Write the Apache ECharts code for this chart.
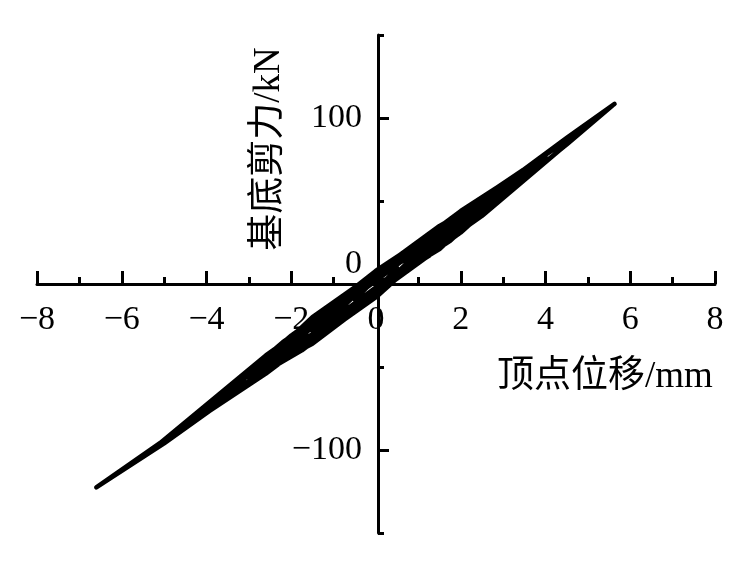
<!DOCTYPE html>
<html>
<head>
<meta charset="utf-8">
<script src="https://cdn.jsdelivr.net/npm/echarts@6/dist/echarts.min.js"></script>
<style>
html,body{margin:0;padding:0;background:#fff;}
#chart{width:744px;height:561px;}
</style>
</head>
<body>
<div id="chart"></div>
<script>
// Top displacement (mm) and base shear (kN)
var disp = [
  0, 0.25, 0.5, 0.25, 0, -0.25, -0.5, -0.25, 0,
  0.5, 1, 0.5, 0, -0.5, -1, -0.5, 0,
  0.5, 1, 0.5, 0, -0.5, -1, -0.5, 0,
  0.75, 1.5, 0.75, 0, -0.75, -1.5, -0.75, 0,
  0.75, 1.5, 0.75, 0, -0.75, -1.5, -0.75, 0,
  1, 2, 1, 0, -1, -2, -1, 0,
  1, 2, 1, 0, -1, -2, -1, 0,
  1.25, 2.5, 1.25, 0, -1.25, -2.5, -1.25, 0,
  1.25, 2.5, 1.25, 0, -1.25, -2.5, -1.25, 0,
  1.5, 3, 1.5, 0, -1.5, -3, -1.5, 0,
  1.5, 3, 1.5, 0, -1.5, -3, -1.5, 0,
  1.75, 3.5, 1.75, 0, -1.75, -3.5, -1.75, 0,
  2, 4, 2, 0, -2, -4, -2, 0,
  2, 4, 2, 0, -2.2, -4.3, -2.2, 0,
  2.5, 5, 2.5, 0, -2.6, -5.2, -2.6, 0,
  2.8, 4.5, 5.63, 4.5, 2.8, 0, -3.3, -5, -6.6, -5, -3.3, 0
];
var force = [
  0, 3, 9.5, 7, 3, -3, -9.5, -7, -3,
  5, 19, 14, 7, -5, -19.5, -14, -7,
  7, 19, 12, 4, -7, -19, -12, -4,
  9, 28.5, 19, 8, -9, -28, -19, -8,
  11, 28, 16, 5, -11, -28.5, -16, -5,
  13, 38, 25, 8, -12, -37, -26, -8,
  15, 38.5, 22, 3, -14, -37.5, -23, -3,
  17, 48, 30, 7, -16, -46, -31, -7,
  20, 47.5, 27, 2, -19, -46.5, -28, -2,
  21, 57, 35, 7, -20, -56, -36, -7,
  24, 57.5, 32, 3, -23, -56.5, -33, -3,
  26, 67, 39, 6, -26, -66, -40, -6,
  31, 77, 44, 6, -31, -75, -43, -6,
  33, 76.5, 42, 4, -35, -81, -45, -4,
  41, 95, 52, 4, -43, -98, -54, -4,
  49, 84, 108.5, 88, 56, 2, -60, -94, -122.5, -96, -65, -2
];
var xTicks = [-8, -6, -4, -2, 0, 2, 4, 6, 8];
var yLabelValues = [-100, 0, 100];
var yMajorTicks = [-100, 100];
var xName = '顶点位移/mm';
var yName = '基底剪力/kN';

var points = disp.map(function (d, i) { return [d, force[i]]; });

var FONT = "'Liberation Serif', 'Times New Roman', 'Noto Sans CJK SC', serif";
var GRID = {left: 37, right: 29, top: 35, bottom: 28};
var X0PX = 378;   // where the vertical axis crosses
var Y0PX = 284;   // where the horizontal axis crosses
function neg(v) { return v < 0 ? '\u2212' + (-v) : String(v); }

var chart = echarts.init(document.getElementById('chart'), null, {renderer: 'canvas'});
chart.setOption({
  backgroundColor: '#fff',
  animation: false,
  grid: {left: GRID.left, right: GRID.right, top: GRID.top, bottom: GRID.bottom, containLabel: false, outerBoundsMode: 'none'},
  xAxis: {
    type: 'value', min: xTicks[0], max: xTicks[xTicks.length - 1], interval: 2,
    position: 'bottom', offset: -(561 - GRID.bottom - Y0PX),
    axisLine: {onZero: false, lineStyle: {color: '#000', width: 3}},
    axisTick: {inside: true, length: 13, lineStyle: {color: '#000', width: 3}},
    minorTick: {show: true, splitNumber: 2, length: 7, lineStyle: {color: '#000', width: 3}},
    axisLabel: {color: '#000', fontSize: 34, fontFamily: FONT, margin: 19, formatter: neg},
    splitLine: {show: false}
  },
  yAxis: [{
    type: 'value', min: -150, max: 150, interval: 50,
    position: 'left', offset: -(X0PX - GRID.left),
    axisLine: {onZero: false, lineStyle: {color: '#000', width: 3}},
    axisTick: {inside: true, length: 6, lineStyle: {color: '#000', width: 3}},
    axisLabel: {color: '#000', fontSize: 34, fontFamily: FONT, margin: 16,
      formatter: function (v) {
        if (yLabelValues.indexOf(v) < 0) return '';
        if (v === 0) return '{z|0}';
        return neg(v);
      },
      rich: {z: {fontSize: 34, fontFamily: FONT, color: '#000', padding: [0, 0, 40, 0]}}
    },
    splitLine: {show: false}
  }, {
    type: 'value', min: -150, max: 150, interval: 50,
    position: 'left', offset: -(X0PX - GRID.left),
    axisLine: {show: false, onZero: false},
    axisTick: {inside: true, length: 11, customValues: yMajorTicks, lineStyle: {color: '#000', width: 3}},
    axisLabel: {show: false},
    splitLine: {show: false}
  }],
  graphic: [
    {type: 'text', left: 497, top: 359,
      style: {text: xName, font: "37px " + FONT, fill: '#000'}},
    {type: 'text', x: 269, y: 149, rotation: Math.PI / 2,
      style: {text: yName, font: "37px " + FONT, fill: '#000', align: 'center', verticalAlign: 'middle'}}
  ],
  series: [{
    type: 'line', xAxisIndex: 0, yAxisIndex: 0,
    data: points, showSymbol: false, symbol: 'none',
    lineStyle: {color: '#000', width: 4.5, join: 'round'}, smooth: false
  }]
});
</script>
</body>
</html>
